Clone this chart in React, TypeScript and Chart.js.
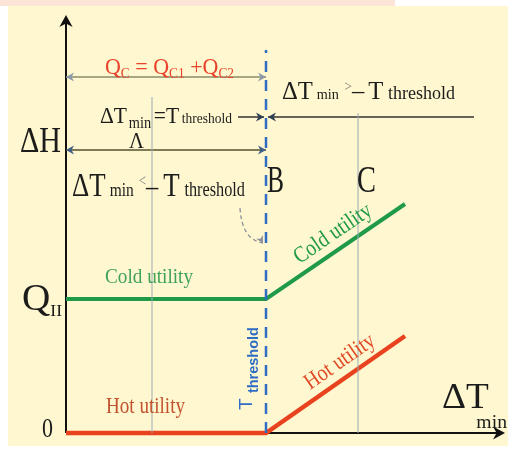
import React, { useEffect, useRef } from "react";
import { Chart, registerables } from "chart.js";

Chart.register(...registerables);

// ---- data (x: ΔTmin axis units, y: ΔH axis units) ----
const xMax = 4.39;
const yMax = 4.18;
const coldX = [0, 2.0, 3.39];
const coldY = [1.34, 1.34, 2.29];
const hotX = [0, 2.0, 3.39];
const hotY = [0, 0, 0.97];
const thresholdX = 2.0;
const thresholdTop = 3.83;
const pointAX = 0.86;
const pointATop = 3.36;
const pointCX = 2.92;
const pointCTop = 3.2;
const spanQcY = 3.56;
const spanEqY = 3.16;
const spanLambdaY = 2.83;

const COLD = "#1f9a48";
const HOT = "#e8421e";
const BLUE = "#2f6cc4";
const SERIF = '"Liberation Serif", "DejaVu Serif", serif';
const SANS = '"Liberation Sans", Arial, sans-serif';

type Seg = { t: string; size: number; dy?: number; gap?: number; color?: string };

// draw a run of text segments fitted horizontally to a target width
function drawFit(ctx: CanvasRenderingContext2D, x: number, y: number, segs: Seg[], color: string, width: number, family = SERIF) {
  ctx.save();
  let natural = 0;
  for (const s of segs) {
    ctx.font = `${s.size}px ${family}`;
    natural += ctx.measureText(s.t).width + (s.gap || 0);
  }
  const sx = width / natural;
  ctx.translate(x, y);
  ctx.scale(sx, 1);
  ctx.textBaseline = "alphabetic";
  ctx.textAlign = "left";
  let cx = 0;
  for (const s of segs) {
    ctx.font = `${s.size}px ${family}`;
    ctx.fillStyle = s.color || color;
    ctx.fillText(s.t, cx, s.dy || 0);
    cx += ctx.measureText(s.t).width + (s.gap || 0);
  }
  ctx.restore();
}

function arrowHead(ctx: CanvasRenderingContext2D, x: number, y: number, ang: number, size: number, color: string) {
  ctx.save();
  ctx.translate(x, y);
  ctx.rotate(ang);
  ctx.fillStyle = color;
  ctx.beginPath();
  ctx.moveTo(0, 0);
  ctx.lineTo(-size, -size * 0.55);
  ctx.lineTo(-size * 0.7, 0);
  ctx.lineTo(-size, size * 0.55);
  ctx.closePath();
  ctx.fill();
  ctx.restore();
}

function line(ctx: CanvasRenderingContext2D, x1: number, y1: number, x2: number, y2: number, color: string, w: number) {
  ctx.save();
  ctx.strokeStyle = color;
  ctx.lineWidth = w;
  ctx.beginPath();
  ctx.moveTo(x1, y1);
  ctx.lineTo(x2, y2);
  ctx.stroke();
  ctx.restore();
}

const bgPlugin = {
  id: "bg",
  beforeDraw(chart: any) {
    const ctx = chart.ctx as CanvasRenderingContext2D;
    ctx.save();
    ctx.fillStyle = "#ffffff";
    ctx.fillRect(0, 0, chart.width, chart.height);
    ctx.fillStyle = "#fce4d6";
    ctx.fillRect(0, 0, 395, 6);
    ctx.fillStyle = "#fff7cf";
    ctx.fillRect(8, 6, chart.width - 8, chart.height - 10);
    ctx.restore();
  },
};

const axesPlugin = {
  id: "axes",
  beforeDatasetsDraw(chart: any) {
    const ctx = chart.ctx as CanvasRenderingContext2D;
    const xs = chart.scales.x;
    const ys = chart.scales.y;
    const X = (v: number) => xs.getPixelForValue(v);
    const Y = (v: number) => ys.getPixelForValue(v);
    // axes
    line(ctx, X(0), Y(0), X(0), Y(yMax) + 6, "#111", 2);
    arrowHead(ctx, X(0), Y(yMax), -Math.PI / 2, 12, "#111");
    line(ctx, X(0), Y(0), X(xMax) - 6, Y(0), "#111", 2);
    arrowHead(ctx, X(xMax), Y(0), 0, 12, "#111");
    // span arrows
    line(ctx, X(0), Y(spanQcY), X(thresholdX), Y(spanQcY), "#8a8c6a", 1.5);
    arrowHead(ctx, X(0), Y(spanQcY), Math.PI, 8, "#8a9aa8");
    arrowHead(ctx, X(thresholdX), Y(spanQcY), 0, 8, "#8a9aa8");
    line(ctx, X(0), Y(spanLambdaY), X(thresholdX), Y(spanLambdaY), "#55522f", 1.6);
    arrowHead(ctx, X(0), Y(spanLambdaY), Math.PI, 8, "#3f5f86");
    arrowHead(ctx, X(thresholdX), Y(spanLambdaY), 0, 8, "#3f5f86");
    line(ctx, X(1.72), Y(spanEqY), X(thresholdX) - 2, Y(spanEqY), "#333", 1.5);
    arrowHead(ctx, X(thresholdX) - 2, Y(spanEqY), 0, 8, "#2d3e55");
    line(ctx, X(thresholdX) + 2, Y(spanEqY), X(4.08), Y(spanEqY), "#333", 1.5);
    arrowHead(ctx, X(thresholdX) + 2, Y(spanEqY), Math.PI, 8, "#2d3e55");
  },
  afterDatasetsDraw(chart: any) {
    const ctx = chart.ctx as CanvasRenderingContext2D;
    const xs = chart.scales.x;
    const ys = chart.scales.y;
    const X = (v: number) => xs.getPixelForValue(v);
    const Y = (v: number) => ys.getPixelForValue(v);
    const W = (d: number) => xs.getPixelForValue(d) - xs.getPixelForValue(0);
    const INK = "#1c1c1c";

    // Qc = Qc1 + Qc2
    drawFit(ctx, X(0.39), Y(3.59), [
      { t: "Q", size: 23 }, { t: "C", size: 14, dy: 4 }, { t: " = Q", size: 23 }, { t: "C1", size: 14, dy: 4 },
      { t: " +Q", size: 23 }, { t: "C2", size: 14, dy: 4 },
    ], "#e8432a", W(1.29));

    // ΔTmin >– Tthreshold
    drawFit(ctx, X(2.16), Y(3.34), [
      { t: "ΔT", size: 26, gap: 4 }, { t: "min", size: 15, gap: 6 }, { t: ">", size: 14, dy: -8, color: "#777" },
      { t: "–", size: 26, gap: 4 }, { t: "T", size: 26, gap: 5 }, { t: "threshold", size: 19 },
    ], INK, W(1.73));

    // ΔTmin = Tthreshold
    drawFit(ctx, X(0.34), Y(3.1), [
      { t: "ΔT", size: 24, gap: 2 }, { t: "min", size: 16, dy: 5, gap: 3 }, { t: "=T", size: 24, gap: 3 }, { t: "threshold", size: 15 },
    ], INK, W(1.32));

    // ΔH
    drawFit(ctx, X(-0.46), Y(2.81), [{ t: "ΔH", size: 36 }], INK, W(0.41));
    // Λ
    drawFit(ctx, X(0.63), Y(2.85), [{ t: "Λ", size: 24 }], INK, W(0.15));

    // ΔTmin <– Tthreshold
    drawFit(ctx, X(0.06), Y(2.37), [
      { t: "ΔT", size: 33, gap: 5 }, { t: "min", size: 19, gap: 6 }, { t: "<", size: 16, dy: -10, color: "#888" },
      { t: "–", size: 30, gap: 6 }, { t: "T", size: 33, gap: 6 }, { t: "threshold", size: 20 },
    ], INK, W(1.73));

    // B, C
    drawFit(ctx, X(2.01), Y(2.41), [{ t: "B", size: 37 }], INK, W(0.17));
    drawFit(ctx, X(2.91), Y(2.41), [{ t: "C", size: 37 }], INK, W(0.19));

    // Cold utility (flat)
    drawFit(ctx, X(0.39), Y(1.5), [{ t: "Cold utility", size: 22 }], "#3fa15a", W(0.88));
    // Hot utility (flat)
    drawFit(ctx, X(0.40), Y(0.2), [{ t: "Hot utility", size: 24 }], "#c0522e", W(0.79));

    // rotated labels along sloped lines
    const rot = (cx: number, cy: number, text: string, color: string, ang: number) => {
      ctx.save();
      ctx.translate(cx, cy);
      ctx.rotate(ang);
      ctx.scale(0.85, 1);
      ctx.font = `23px ${SERIF}`;
      ctx.fillStyle = color;
      ctx.textAlign = "center";
      ctx.textBaseline = "middle";
      ctx.fillText(text, 0, 0);
      ctx.restore();
    };
    const angCold = Math.atan2(Y(coldY[2]) - Y(coldY[1]), X(coldX[2]) - X(coldX[1]));
    const angHot = Math.atan2(Y(hotY[2]) - Y(hotY[1]), X(hotX[2]) - X(hotX[1]));
    rot(X(2.67), Y(1.99), "Cold utility", COLD, angCold);
    rot(X(2.74), Y(0.71), "Hot utility", "#e04a26", angHot);

    // Q_II
    drawFit(ctx, X(-0.44), Y(1.23), [{ t: "Q", size: 38 }, { t: "II", size: 17, dy: 6 }], INK, W(0.4));
    // 0
    drawFit(ctx, X(-0.24), Y(-0.04), [{ t: "0", size: 27 }], INK, W(0.11));

    // ΔTmin axis title
    drawFit(ctx, X(3.76), Y(0.25), [{ t: "ΔT", size: 36, gap: -12 }, { t: "min", size: 19, dy: 20 }], INK, W(0.65));

    // T threshold vertical
    ctx.save();
    ctx.translate(X(1.855), Y(0.23));
    ctx.rotate(-Math.PI / 2);
    ctx.fillStyle = BLUE;
    ctx.textAlign = "left";
    ctx.textBaseline = "alphabetic";
    ctx.font = `19px ${SANS}`;
    ctx.fillText("T", 0, 0);
    const tw = ctx.measureText("T ").width;
    ctx.font = `bold 14.5px ${SANS}`;
    ctx.fillText("threshold", tw, 6);
    ctx.restore();

    // curved dashed pointer
    ctx.save();
    ctx.strokeStyle = "#8a8f98";
    ctx.lineWidth = 1.3;
    ctx.setLineDash([4, 3]);
    ctx.beginPath();
    const sx0 = X(1.74), sy0 = Y(2.25);
    const ex = X(thresholdX) - 3, ey = Y(1.9);
    ctx.moveTo(sx0, sy0);
    ctx.quadraticCurveTo(X(1.76), Y(1.93), ex, ey);
    ctx.stroke();
    ctx.setLineDash([]);
    arrowHead(ctx, ex, ey, Math.PI / 3, 7, "#8a8f98");
    ctx.restore();
  },
};

export default function App() {
  const ref = useRef<HTMLCanvasElement>(null);
  useEffect(() => {
    if (!ref.current) return;
    const pts = (xs: number[], ys: number[]) => xs.map((x, i) => ({ x, y: ys[i] }));
    const chart = new Chart(ref.current, {
      type: "line",
      data: {
        datasets: [
          { data: [{ x: pointAX, y: 0 }, { x: pointAX, y: pointATop }], borderColor: "#9aabb5", borderWidth: 1, pointRadius: 0 },
          { data: [{ x: pointCX, y: 0 }, { x: pointCX, y: pointCTop }], borderColor: "#9aabb5", borderWidth: 1, pointRadius: 0 },
          { data: [{ x: thresholdX, y: 0 }, { x: thresholdX, y: thresholdTop }], borderColor: BLUE, borderWidth: 2.5, borderDash: [11, 8], pointRadius: 0 },
          { data: pts(coldX, coldY), borderColor: COLD, borderWidth: 4, pointRadius: 0 },
          { data: pts(hotX, hotY), borderColor: HOT, borderWidth: 4.5, pointRadius: 0 },
        ] as any,
      },
      options: {
        responsive: false,
        animation: false,
        parsing: false,
        clip: false as any,
        layout: { padding: { left: 66, right: 3, top: 15, bottom: 17 } },
        scales: {
          x: { type: "linear", min: 0, max: xMax, display: false },
          y: { type: "linear", min: 0, max: yMax, display: false },
        },
        plugins: { legend: { display: false }, tooltip: { enabled: false } },
        elements: { line: { tension: 0 } },
      },
      plugins: [bgPlugin, axesPlugin],
    });
    return () => chart.destroy();
  }, []);
  return (
    <div style={{ position: "absolute", left: 0, top: 0, width: 508, height: 450 }}>
      <canvas ref={ref} width={508} height={450} style={{ display: "block" }} />
    </div>
  );
}
